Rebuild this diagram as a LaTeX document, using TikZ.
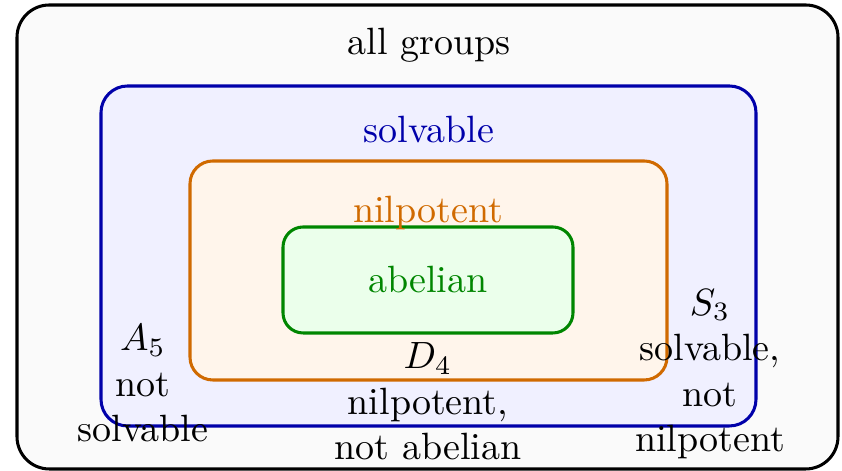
\documentclass[tikz,border=0pt]{standalone}
\begin{document}
\begin{tikzpicture}[x=0.2632pt, y=-0.2632pt,
  setbox/.style={line width=0.8pt},
  lbl/.style={anchor=base, align=center, inner sep=0pt}]
\definecolor{cblue}{RGB}{0,0,170}
\definecolor{corange}{RGB}{208,106,0}
\definecolor{cgreen}{RGB}{0,134,0}
\useasboundingbox (0,0) rectangle (842,471);
% sets
\draw[setbox, draw=black, fill=black!2, rounded corners=8.5pt] (17,5) rectangle (838,469);
\draw[setbox, draw=cblue, fill=blue!6, rounded corners=7pt] (101,86) rectangle (756,426);
\draw[setbox, draw=corange, fill=orange!8, rounded corners=6pt] (190,161) rectangle (667,380);
\draw[setbox, draw=cgreen, fill=green!8, rounded corners=5.3pt] (283,227) rectangle (573,333);
% labels (base anchor = baseline of last line)
\node[lbl] (all) at (429,55) {all groups};
\node[lbl, text=cblue] (solv) at (429,143) {solvable};
\node[lbl, text=corange] (nil) at (428,223) {nilpotent};
\node[lbl, text=cgreen] (ab) at (428,293) {abelian};
\node[lbl] (d4) at (428,460) {$D_4$\\nilpotent,\\not abelian};
\node[lbl] (a5) at (143,442) {$A_5$\\not\\solvable};
\node[lbl] (s3) at (710,452) {$S_3$\\solvable,\\not\\nilpotent};
\end{tikzpicture}
\end{document}
